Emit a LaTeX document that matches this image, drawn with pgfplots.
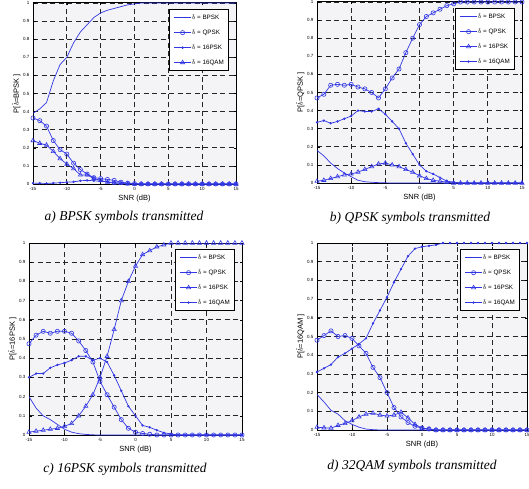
\documentclass[border=0pt]{standalone}
\usepackage{pgfplots}
\pgfplotsset{compat=1.18}
\usepackage{pgfplotstable}
\usepackage{fontspec}
\setmainfont{Liberation Sans}
\newfontfamily\capfont{Liberation Serif}
\definecolor{mblue}{RGB}{50,55,228}
\definecolor{bgg}{RGB}{244,244,246}

\pgfplotstableread{
x bpsk qpsk psk qam
-15 0.39 0.365 0.005 0.24
-14 0.415 0.35 0.004 0.225
-13 0.45 0.32 0.003 0.215
-12 0.57 0.24 0.005 0.18
-11 0.66 0.19 0.007 0.14
-10 0.70 0.165 0.010 0.11
-9 0.78 0.115 0.012 0.085
-8 0.84 0.08 0.018 0.05
-7 0.88 0.055 0.020 0.05
-6 0.92 0.035 0.018 0.03
-5 0.945 0.03 0.015 0.02
-4 0.96 0.025 0.012 0.01
-3 0.97 0.02 0.008 0.005
-2 0.98 0.01 0.005 0.003
-1 0.99 0.005 0.003 0.001
0 0.995 0.002 0.001 0
1 1 0 0 0
2 1 0 0 0
3 1 0 0 0
4 1 0 0 0
5 1 0 0 0
6 1 0 0 0
7 1 0 0 0
8 1 0 0 0
9 1 0 0 0
10 1 0 0 0
11 1 0 0 0
12 1 0 0 0
13 1 0 0 0
14 1 0 0 0
15 1 0 0 0
}\tA

\pgfplotstableread{
x bpsk qpsk psk qam
-15 0.18 0.47 0.01 0.335
-14 0.15 0.49 0.015 0.345
-13 0.11 0.54 0.025 0.33
-12 0.08 0.545 0.035 0.34
-11 0.055 0.54 0.045 0.355
-10 0.035 0.545 0.05 0.37
-9 0.015 0.53 0.06 0.40
-8 0.007 0.52 0.075 0.395
-7 0.004 0.50 0.09 0.395
-6 0.002 0.47 0.105 0.41
-5 0.001 0.52 0.11 0.38
-4 0 0.58 0.10 0.34
-3 0 0.63 0.09 0.30
-2 0 0.72 0.075 0.22
-1 0 0.80 0.06 0.16
0 0 0.875 0.04 0.10
1 0 0.92 0.025 0.065
2 0 0.94 0.015 0.05
3 0 0.96 0.01 0.03
4 0 0.98 0.005 0.01
5 0 0.99 0 0.005
6 0 1 0 0
7 0 1 0 0
8 0 1 0 0
9 0 1 0 0
10 0 1 0 0
11 0 1 0 0
12 0 1 0 0
13 0 1 0 0
14 0 1 0 0
15 0 1 0 0
}\tB

\pgfplotstableread{
x bpsk qpsk psk qam
-15 0.20 0.475 0.015 0.30
-14 0.14 0.52 0.02 0.32
-13 0.10 0.54 0.025 0.32
-12 0.08 0.53 0.03 0.35
-11 0.055 0.54 0.035 0.365
-10 0.03 0.54 0.045 0.375
-9 0.015 0.53 0.06 0.39
-8 0.007 0.49 0.10 0.41
-7 0.003 0.44 0.15 0.41
-6 0.001 0.38 0.21 0.39
-5 0 0.28 0.30 0.40
-4 0 0.21 0.41 0.38
-3 0 0.145 0.55 0.31
-2 0 0.08 0.70 0.23
-1 0 0.035 0.80 0.15
0 0 0.015 0.88 0.10
1 0 0.008 0.94 0.05
2 0 0.004 0.96 0.04
3 0 0 0.98 0.025
4 0 0 0.99 0.012
5 0 0 1 0.005
6 0 0 1 0
7 0 0 1 0
8 0 0 1 0
9 0 0 1 0
10 0 0 1 0
11 0 0 1 0
12 0 0 1 0
13 0 0 1 0
14 0 0 1 0
15 0 0 1 0
}\tC

\pgfplotstableread{
x bpsk qpsk psk qam
-15 0.19 0.48 0.015 0.31
-14 0.15 0.505 0.012 0.33
-13 0.105 0.53 0.01 0.35
-12 0.085 0.50 0.025 0.39
-11 0.05 0.505 0.035 0.41
-10 0.03 0.49 0.05 0.435
-9 0.015 0.45 0.07 0.46
-8 0.005 0.41 0.085 0.49
-7 0.002 0.335 0.09 0.57
-6 0 0.28 0.08 0.64
-5 0 0.20 0.075 0.71
-4 0 0.12 0.08 0.79
-3 0 0.07 0.095 0.86
-2 0 0.04 0.065 0.93
-1 0 0.02 0.03 0.97
0 0 0.01 0.01 0.98
1 0 0.005 0.005 0.985
2 0 0 0 0.99
3 0 0 0 1
4 0 0 0 1
5 0 0 0 1
6 0 0 0 1
7 0 0 0 1
8 0 0 0 1
9 0 0 0 1
10 0 0 0 1
11 0 0 0 1
12 0 0 0 1
13 0 0 0 1
14 0 0 0 1
15 0 0 0 1
}\tD

\pgfplotsset{
  mystyle/.style={
    scale only axis,
    anchor=south west,
    xmin=-15, xmax=15, ymin=0, ymax=1,
    xtick={-15,-10,...,15},
    ytick={0,0.1,...,1.0},
    /pgf/number format/assume math mode=true,
    yticklabel style={/pgf/number format/fixed,/pgf/number format/precision=1},
    ticklabel style={font=\fontsize{4.5}{5}\selectfont},
    tick align=inside,
    major tick length=2.5pt,
    tick style={black, line width=0.5pt},
    axis line style={black, line width=1pt},
    axis background/.style={fill=bgg},
    grid=major,
    major grid style={black!85, line width=0.8pt, dash pattern=on 5pt off 3.5pt},
    xlabel={SNR (dB)},
    label style={font=\fontsize{7.5}{8}\selectfont},
    xlabel style={yshift=3pt},
    ylabel style={yshift=-4pt},
    legend style={at={(1,1)}, anchor=north east, xshift=-7pt, yshift=-6pt,
      draw=black, line width=1pt, fill=white,
      font=\fontsize{6.3}{7}\selectfont,
      row sep=6.5pt, inner xsep=4pt, inner ysep=4pt,
      nodes={inner sep=0.6pt}},
    legend cell align=left,
  },
  lplain/.style={color=mblue, line width=0.7pt, no marks},
  lcirc/.style={color=mblue, line width=0.7pt, mark=o, mark size=2.1pt, mark options={line width=0.6pt}},
  ltri/.style={color=mblue, line width=0.7pt, mark=triangle, mark size=2.4pt, mark options={line width=0.6pt}},
  ldot/.style={color=mblue, line width=0.7pt, mark=*, mark size=0.8pt},
}

\begin{document}
\begin{tikzpicture}
\path[use as bounding box] (0,0) rectangle (529pt,488pt);

\begin{axis}[mystyle, at={(33pt,304pt)}, width=203pt, height=181pt,
  ylabel={P[$\hat{b}$=BPSK ]}]
\addplot[lplain] table[x=x,y=bpsk] {\tA};
\addplot[lcirc] table[x=x,y=qpsk] {\tA};
\addplot[ldot] table[x=x,y=psk] {\tA};
\addplot[ltri] table[x=x,y=qam] {\tA};
\legend{$\hat{b}$ = BPSK, $\hat{b}$ = QPSK, $\hat{b}$ = 16PSK, $\hat{b}$ = 16QAM}
\end{axis}

\begin{axis}[mystyle, at={(317pt,305pt)}, width=205pt, height=181pt,
  ylabel={P[$\hat{b}$=QPSK ]}]
\addplot[lplain] table[x=x,y=bpsk] {\tB};
\addplot[lcirc] table[x=x,y=qpsk] {\tB};
\addplot[ltri] table[x=x,y=psk] {\tB};
\addplot[ldot] table[x=x,y=qam] {\tB};
\legend{$\hat{b}$ = BPSK, $\hat{b}$ = QPSK, $\hat{b}$ = 16PSK, $\hat{b}$ = 16QAM}
\end{axis}

\begin{axis}[mystyle, at={(29pt,53pt)}, width=213pt, height=192pt,
  ylabel={P[$\hat{b}$=16PSK ]}]
\addplot[lplain] table[x=x,y=bpsk] {\tC};
\addplot[lcirc] table[x=x,y=qpsk] {\tC};
\addplot[ltri] table[x=x,y=psk] {\tC};
\addplot[ldot] table[x=x,y=qam] {\tC};
\legend{$\hat{b}$ = BPSK, $\hat{b}$ = QPSK, $\hat{b}$ = 16PSK, $\hat{b}$ = 16QAM}
\end{axis}

\begin{axis}[mystyle, at={(317pt,58pt)}, width=210pt, height=187pt,
  ylabel={P[$\hat{b}$=16QAM ]}]
\addplot[lplain] table[x=x,y=bpsk] {\tD};
\addplot[lcirc] table[x=x,y=qpsk] {\tD};
\addplot[ltri] table[x=x,y=psk] {\tD};
\addplot[ldot] table[x=x,y=qam] {\tD};
\legend{$\hat{b}$ = BPSK, $\hat{b}$ = QPSK, $\hat{b}$ = 16PSK, $\hat{b}$ = 16QAM}
\end{axis}

\node[font=\capfont\itshape\fontsize{13.5}{14}\selectfont] at (124pt,271pt) {a) BPSK symbols transmitted};
\node[font=\capfont\itshape\fontsize{13.5}{14}\selectfont] at (410pt,270pt) {b) QPSK symbols transmitted};
\node[font=\capfont\itshape\fontsize{13.5}{14}\selectfont] at (125pt,19pt) {c) 16PSK symbols transmitted};
\node[font=\capfont\itshape\fontsize{13.5}{14}\selectfont] at (412pt,22pt) {d) 32QAM symbols transmitted};
\end{tikzpicture}
\end{document}
